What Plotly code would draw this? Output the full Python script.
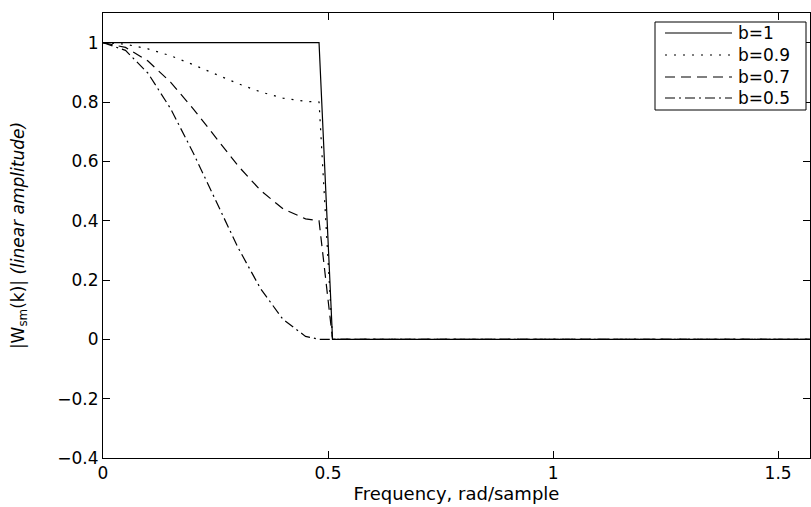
import plotly.graph_objects as go

# Frequency grid (rad/sample) and magnitudes
freq = [0, 0.05, 0.10, 0.15, 0.20, 0.25, 0.30, 0.35, 0.40, 0.45, 0.48, 0.51, 1.5708]
w_b1 = [1, 1, 1, 1, 1, 1, 1, 1, 1, 1, 1, 0, 0]
w_b09 = [1, 0.995, 0.979, 0.956, 0.926, 0.894, 0.862, 0.834, 0.813, 0.802, 0.80, 0, 0]
w_b07 = [1, 0.984, 0.938, 0.867, 0.778, 0.681, 0.585, 0.502, 0.440, 0.406, 0.40, 0, 0]
w_b05 = [1, 0.974, 0.897, 0.778, 0.630, 0.468, 0.309, 0.171, 0.067, 0.010, 0.0, 0, 0]

series_names = ["b=1", "b=0.9", "b=0.7", "b=0.5"]
series_vals = [w_b1, w_b09, w_b07, w_b05]
dashes = ["solid", "2px,7px", "10px,6px", "10px,4px,2px,4px"]

x_ticks = [0, 0.5, 1, 1.5]
x_ticktext = ["0", "0.5", "1", "1.5"]
y_ticks = [-0.4, -0.2, 0, 0.2, 0.4, 0.6, 0.8, 1.0]
y_ticktext = ["\u22120.4", "\u22120.2", "0", "0.2", "0.4", "0.6", "0.8", "1"]

FAM = "DejaVu Sans, Verdana, sans-serif"

fig = go.Figure()
for name, vals, d in zip(series_names, series_vals, dashes):
    fig.add_trace(go.Scatter(x=freq, y=vals, mode="lines", name=name, showlegend=False,
                             line=dict(color="black", width=1.2, dash=d)))

# Plot area in pixels: x 103..810, y 13..458
L, R, T, B = 103, 810, 13, 458
def px(x):
    return (x - L) / (R - L)
def py(y):
    return (B - y) / (B - T)

shapes = [dict(type="rect", xref="paper", yref="paper",
               x0=px(655), x1=px(806), y0=py(110), y1=py(22),
               line=dict(color="black", width=1), fillcolor="white", layer="above")]
annotations = []
row_y = [33, 55, 77, 98]
for name, d, ry in zip(series_names, dashes, row_y):
    shapes.append(dict(type="line", xref="paper", yref="paper",
                       x0=px(665), x1=px(732), y0=py(ry), y1=py(ry),
                       line=dict(color="black", width=1.2, dash=d), layer="above"))
    annotations.append(dict(xref="paper", yref="paper", x=px(736), y=py(ry),
                            xanchor="left", yanchor="middle", text=name, showarrow=False,
                            font=dict(family=FAM, size=17, color="black")))

font = dict(family=FAM, size=17, color="black")
fig.update_layout(
    width=811, height=507,
    margin=dict(l=L, r=811 - R, t=T, b=507 - B),
    paper_bgcolor="white", plot_bgcolor="white",
    font=font,
    shapes=shapes, annotations=annotations,
    xaxis=dict(range=[0, 1.5708], tickmode="array", tickvals=x_ticks, ticktext=x_ticktext,
               ticks="inside", ticklen=7, tickcolor="black", showline=True, linecolor="black",
               linewidth=1, mirror="ticks", showgrid=False, zeroline=False,
               tickfont=dict(family=FAM, size=17),
               title=dict(text="Frequency, rad/sample", standoff=2,
                          font=dict(family=FAM, size=18))),
    yaxis=dict(range=[-0.4, 1.1], tickmode="array", tickvals=y_ticks, ticktext=y_ticktext,
               ticks="inside", ticklen=7, tickcolor="black", showline=True, linecolor="black",
               linewidth=1, mirror="ticks", showgrid=False, zeroline=False,
               tickfont=dict(family=FAM, size=17),
               title=dict(text="|W<sub>sm</sub>(k)| <i>(linear amplitude)</i>", standoff=28,
                          font=dict(family=FAM, size=17))),
)
fig.write_html("out.html")
